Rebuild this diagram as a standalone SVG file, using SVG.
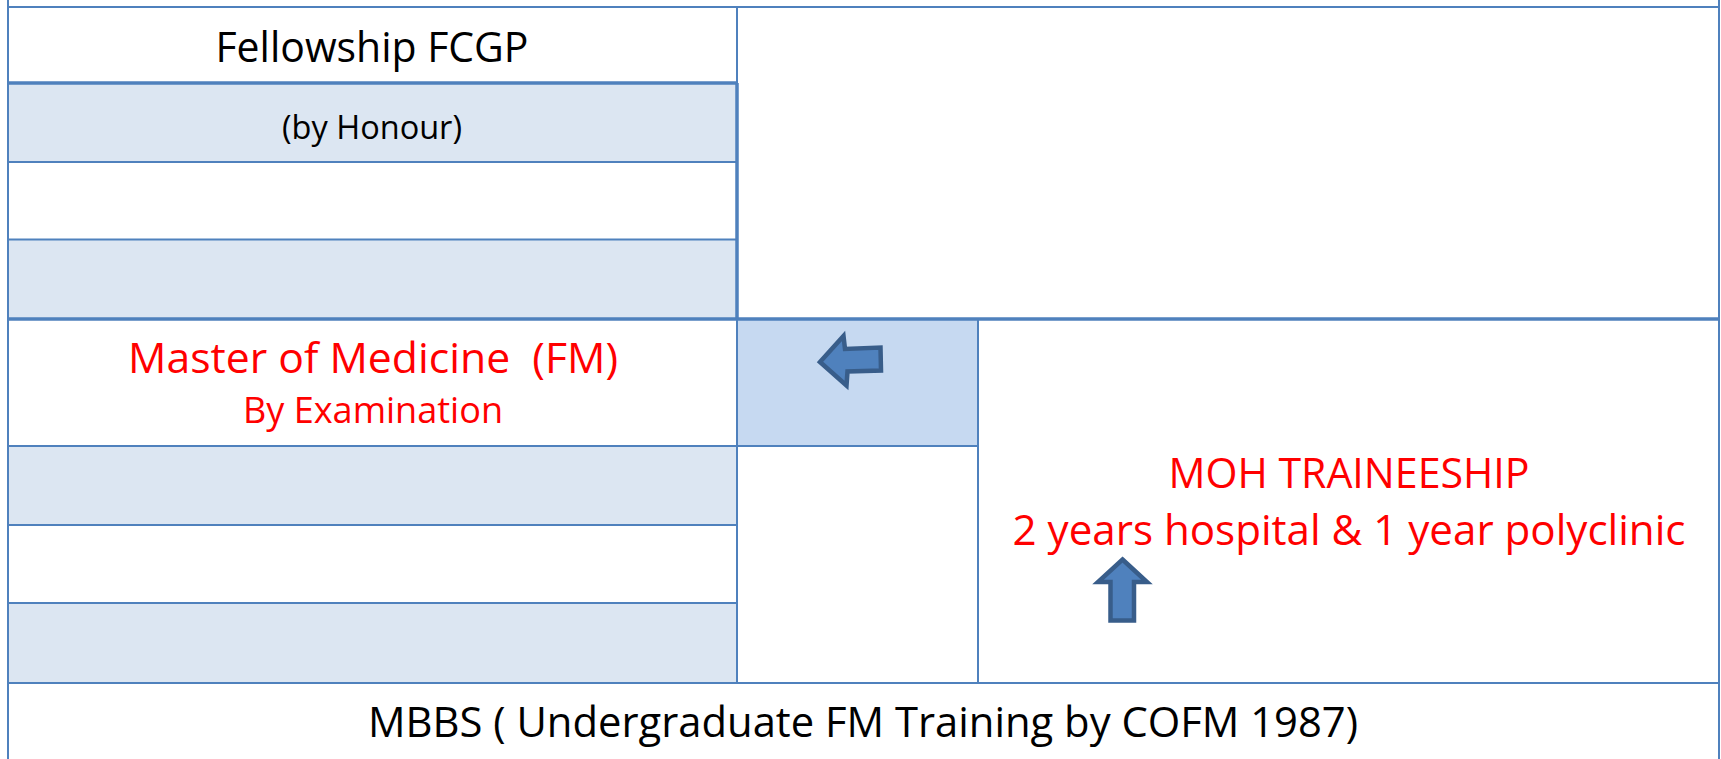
<svg xmlns="http://www.w3.org/2000/svg" width="1721" height="759" viewBox="0 0 1721 759">
  <style>
    .thin { stroke: #4f81bd; stroke-width: 2; fill: none; }
    .thick { stroke: #4f81bd; stroke-width: 3.5; fill: none; }
    .light { fill: #dce6f2; }
    .mid { fill: #c6d9f1; }
    .t { font-family: "Open Sans", "Noto Sans", "Liberation Sans", sans-serif; text-anchor: middle; }
    .blk { fill: #000000; }
    .red { fill: #ff0000; }
    .arrow { fill: #4f81bd; stroke: #385d8a; stroke-width: 4.5; stroke-linejoin: miter; }
  </style>
  <rect x="0" y="0" width="1721" height="759" fill="#ffffff"/>

  <g id="fellowship">
    <rect x="8" y="7" width="729" height="76" fill="#ffffff"/>
    <text class="t blk" x="372" y="62" font-size="42" textLength="313" lengthAdjust="spacingAndGlyphs">Fellowship FCGP</text>
  </g>
  <g id="by-honour">
    <rect class="light" x="8" y="83" width="729" height="79"/>
    <text class="t blk" x="372" y="139" font-size="33" textLength="180" lengthAdjust="spacingAndGlyphs">(by Honour)</text>
  </g>
  <g id="row3"><rect x="8" y="162" width="729" height="77" fill="#ffffff"/></g>
  <g id="row4"><rect class="light" x="8" y="239" width="729" height="80"/></g>
  <g id="top-right"><rect x="737" y="7" width="982" height="312" fill="#ffffff"/></g>

  <g id="master">
    <rect x="8" y="319" width="729" height="127" fill="#ffffff"/>
    <text class="t red" x="373" y="373" font-size="42" textLength="490" lengthAdjust="spacingAndGlyphs" xml:space="preserve">Master of Medicine  (FM)</text>
    <text class="t red" x="373" y="423" font-size="37" textLength="260" lengthAdjust="spacingAndGlyphs">By Examination</text>
  </g>
  <g id="row6"><rect class="light" x="8" y="446" width="729" height="79"/></g>
  <g id="row7"><rect x="8" y="525" width="729" height="78" fill="#ffffff"/></g>
  <g id="row8"><rect class="light" x="8" y="603" width="729" height="80"/></g>

  <g id="middle-top"><rect class="mid" x="737" y="319" width="241" height="127"/></g>
  <g id="middle-bottom"><rect x="737" y="446" width="241" height="237" fill="#ffffff"/></g>

  <g id="moh">
    <rect x="978" y="319" width="741" height="364" fill="#ffffff"/>
    <text class="t red" x="1349" y="488" font-size="42" textLength="361" lengthAdjust="spacingAndGlyphs">MOH TRAINEESHIP</text>
    <text class="t red" x="1349" y="545" font-size="42" textLength="673" lengthAdjust="spacingAndGlyphs">2 years hospital &amp; 1 year polyclinic</text>
  </g>

  <g id="mbbs">
    <rect x="8" y="683" width="1711" height="90" fill="#ffffff"/>
    <text class="t blk" x="863" y="737" font-size="42" textLength="990" lengthAdjust="spacingAndGlyphs">MBBS ( Undergraduate FM Training by COFM 1987)</text>
  </g>

  <g id="connectors">
    <line class="thin" x1="8" y1="0" x2="8" y2="759"/>
    <line class="thin" x1="1719" y1="0" x2="1719" y2="759"/>
    <line class="thin" x1="8" y1="7" x2="1719" y2="7"/>
    <line class="thick" x1="8" y1="83" x2="738" y2="83"/>
    <line class="thin" x1="8" y1="162" x2="737" y2="162"/>
    <line class="thin" x1="8" y1="239.5" x2="737" y2="239.5"/>
    <line class="thick" x1="8" y1="319" x2="1719" y2="319"/>
    <line class="thin" x1="8" y1="446" x2="978" y2="446"/>
    <line class="thin" x1="8" y1="525" x2="737" y2="525"/>
    <line class="thin" x1="8" y1="603" x2="737" y2="603"/>
    <line class="thin" x1="8" y1="683" x2="1719" y2="683"/>
    <line class="thin" x1="737" y1="7" x2="737" y2="83"/>
    <line class="thick" x1="737" y1="83" x2="737" y2="319"/>
    <line class="thin" x1="737" y1="319" x2="737" y2="683"/>
    <line class="thin" x1="978" y1="319" x2="978" y2="683"/>
    <polygon id="arrow-left" class="arrow" points="820,362 843.5,336 845,349 880.5,347.5 881,370.5 847.5,371.5 846.5,385.5"/>
    <polygon id="arrow-up" class="arrow" points="1122.5,559.5 1147,582 1134,582 1134,620.5 1110.5,620.5 1110.5,582 1098,582"/>
  </g>
</svg>
